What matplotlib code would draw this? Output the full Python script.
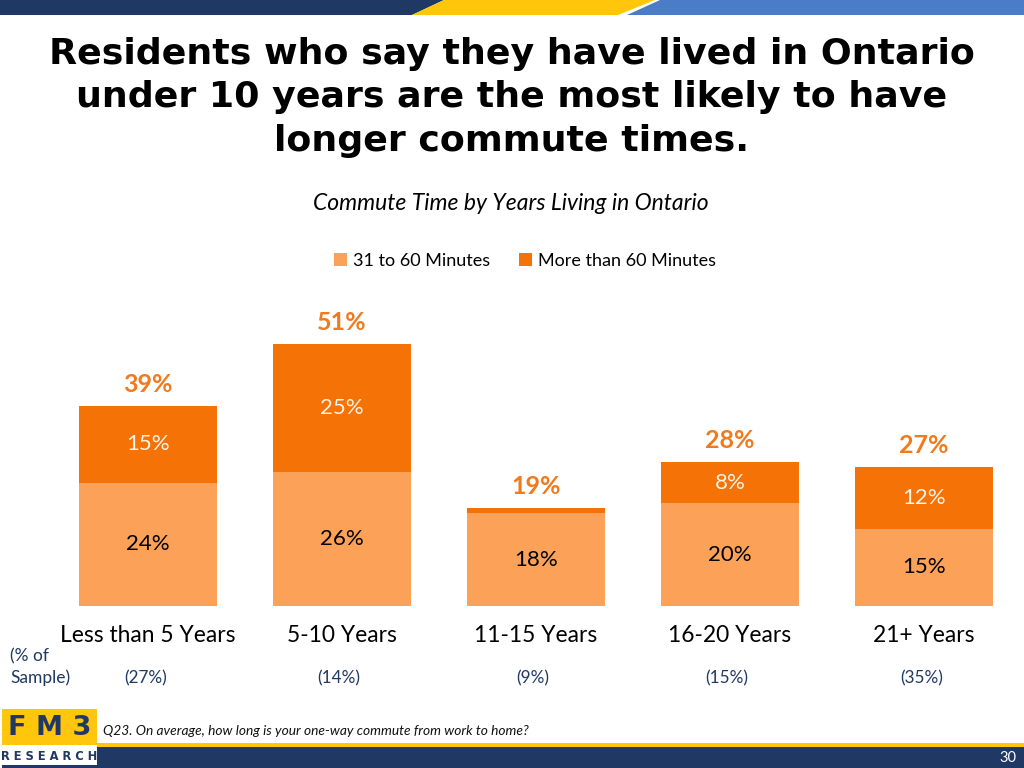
import matplotlib
matplotlib.use("Agg")
import matplotlib.pyplot as plt
from matplotlib.patches import Polygon, Rectangle

# ---- data ----
categories = ["Less than 5 Years", "5-10 Years", "11-15 Years", "16-20 Years", "21+ Years"]
mid_commute = [24, 26, 18, 20, 15]        # 31 to 60 Minutes
long_commute = [15, 25, 1, 8, 12]         # More than 60 Minutes
totals = [39, 51, 19, 28, 27]
sample_share = ["(27%)", "(14%)", "(9%)", "(15%)", "(35%)"]
series_names = ["31 to 60 Minutes", "More than 60 Minutes"]

LIGHT = "#FBA158"
DARK = "#F57206"
TOTAL_C = "#F07A1E"
NAVY = "#1F3864"
YELLOW = "#FFC60B"
BLUE = "#4A7CC8"
BODY = "Lato"

fig = plt.figure(figsize=(10.24, 7.68), dpi=100)

# background decoration axes in pixel coords
bg = fig.add_axes([0, 0, 1, 1], zorder=0)
bg.set_xlim(0, 1024)
bg.set_ylim(768, 0)
bg.axis("off")
# top band
bg.add_patch(Polygon([(0, 0), (444, 0), (412, 15), (0, 15)], closed=True, color=NAVY, lw=0))
bg.add_patch(Polygon([(444, 0), (655, 0), (618, 15), (412, 15)], closed=True, color=YELLOW, lw=0))
bg.add_patch(Polygon([(660, 0), (1024, 0), (1024, 15), (627, 15)], closed=True, color=BLUE, lw=0))
# bottom band
bg.add_patch(Rectangle((97, 743), 927, 4, color=YELLOW, lw=0))
bg.add_patch(Rectangle((97, 747), 927, 21, color=NAVY, lw=0))
bg.text(1016, 758, "30", color="white", fontsize=10.5, ha="right", va="center", family=BODY)
# logo
bg.add_patch(Rectangle((2, 709), 95, 36, color=YELLOW, lw=0))
bg.text(49.5, 728, "F M 3", color=NAVY, fontsize=19.5, fontweight="bold", ha="center", va="center",
        family="DejaVu Sans")
bg.text(49.5, 757, "R E S E A R C H", color=NAVY, fontsize=8.3, fontweight="bold", ha="center",
        va="center", family="DejaVu Sans")
bg.add_patch(Rectangle((2, 765), 95, 3, color=NAVY, lw=0))
bg.text(103, 731, "Q23. On average, how long is your one-way commute from work to home?",
        fontsize=9.9, style="italic", ha="left", va="center", family=BODY, color="#111111")

# title
bg.text(512, 97.5, "Residents who say they have lived in Ontario\nunder 10 years are the most likely to have\nlonger commute times.",
        fontsize=26.2, fontweight="bold", ha="center", va="center", family="DejaVu Sans",
        linespacing=1.34, color="black")
bg.text(511, 204, "Commute Time by Years Living in Ontario", fontsize=16.5, style="italic",
        ha="center", va="center", family=BODY, color="black")

# sample labels
bg.text(10, 656, "(% of", fontsize=12.5, ha="left", va="center", family=BODY, color=NAVY)
bg.text(10, 678, "Sample)", fontsize=12.5, ha="left", va="center", family=BODY, color=NAVY)

# ---- chart ----
ax = fig.add_axes([51 / 1024, 162 / 768, 970 / 1024, (5.14 * 60) / 768], zorder=1)
ax.patch.set_alpha(0)
x = list(range(len(categories)))
w = 138 / 194
b1 = ax.bar(x, mid_commute, width=w, color=LIGHT, label=series_names[0], lw=0)
b2 = ax.bar(x, long_commute, width=w, bottom=mid_commute, color=DARK, label=series_names[1], lw=0)
ax.set_xlim(-0.5, len(categories) - 0.5)
ax.set_ylim(0, 60)
for s in ax.spines.values():
    s.set_visible(False)
ax.set_yticks([])
ax.set_xticks(x)
ax.set_xticklabels(categories, fontsize=16.4, family=BODY)
ax.tick_params(axis="x", length=0, pad=14)

for i in x:
    ax.text(i, mid_commute[i] / 2, f"{mid_commute[i]}%", ha="center", va="center",
            fontsize=16, family=BODY, color="black")
    if long_commute[i] >= 3:
        ax.text(i, mid_commute[i] + long_commute[i] / 2, f"{long_commute[i]}%", ha="center",
                va="center", fontsize=16, family=BODY, color="#FFF4E8")
    ax.annotate(f"{totals[i]}%", (i, totals[i]), xytext=(0, 15.5), textcoords="offset points",
                ha="center", va="center", fontsize=18, fontweight="bold", family=BODY,
                color=TOTAL_C)
    ax.annotate(sample_share[i], (i, 0), xytext=(-2, -52), textcoords="offset points",
                ha="center", va="center", fontsize=12.3, family=BODY, color=NAVY)

leg = fig.legend(handles=[b1, b2], labels=series_names, loc="center", bbox_to_anchor=(525 / 1024, 1 - 261 / 768),
                 ncol=2, frameon=False, prop={"family": BODY, "size": 13},
                 handlelength=0.75, handleheight=0.75, handletextpad=0.35, columnspacing=1.55)

fig.savefig("out.png", dpi=100)
